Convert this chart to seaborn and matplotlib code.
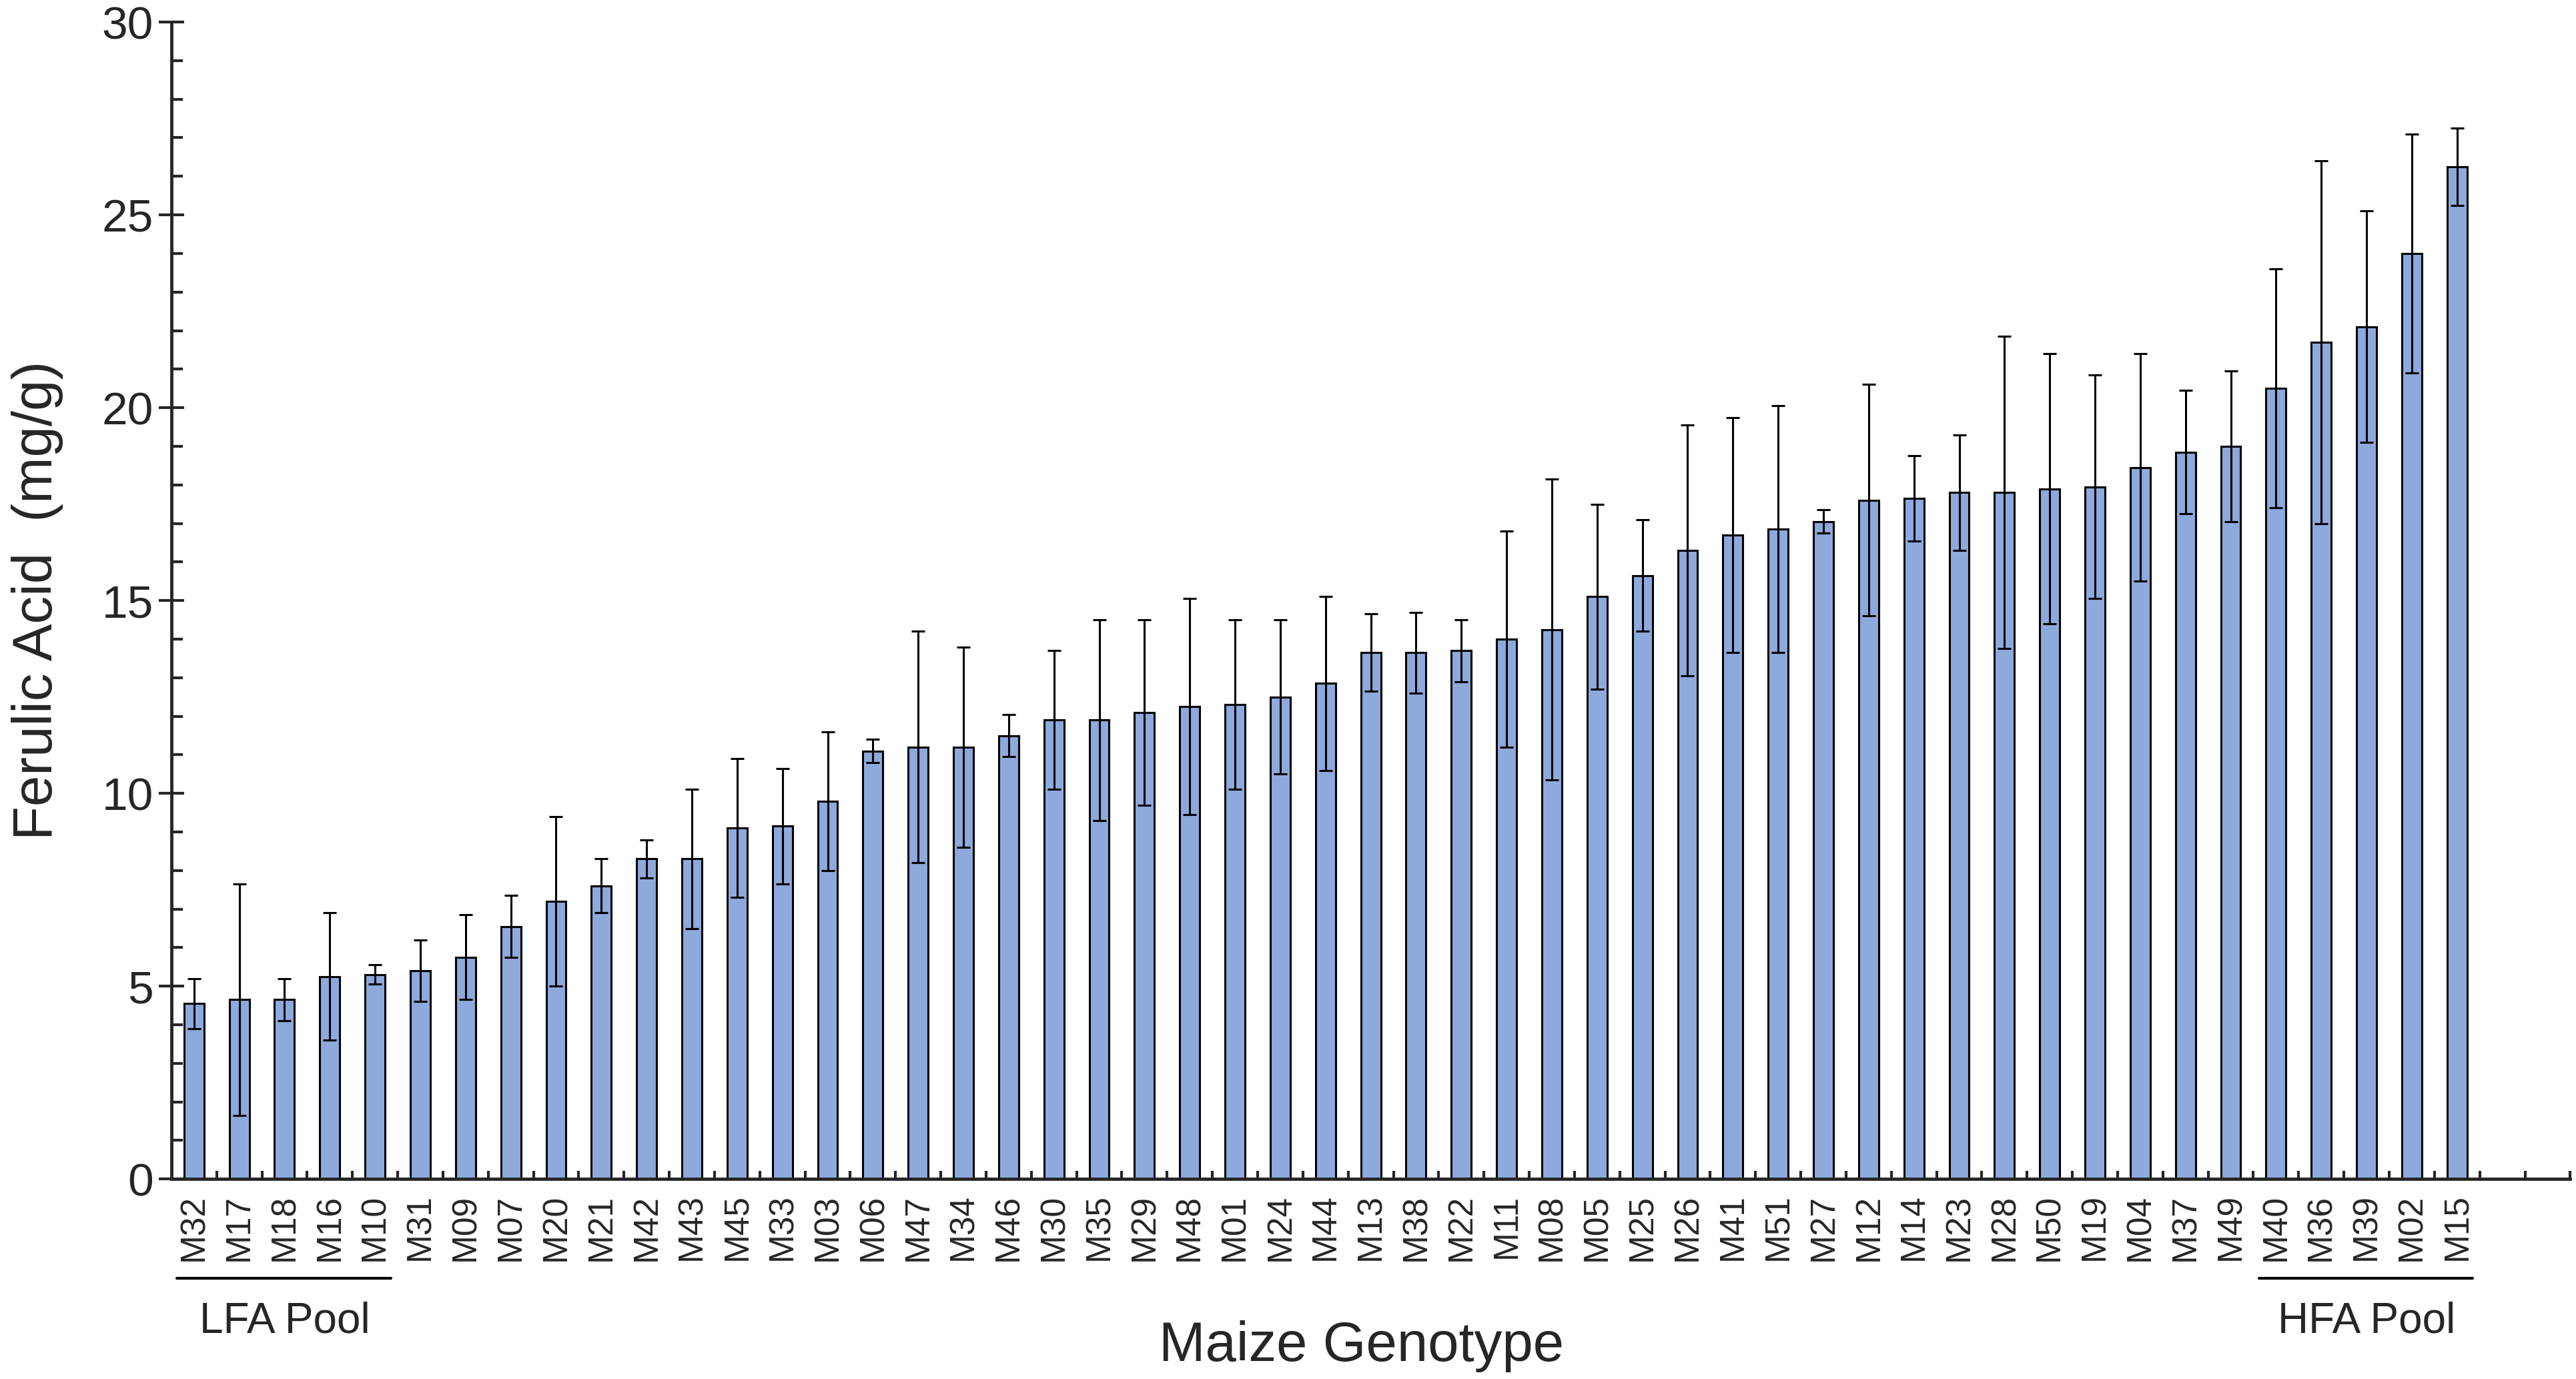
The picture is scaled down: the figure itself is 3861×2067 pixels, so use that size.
import numpy as np
import pandas as pd
import matplotlib
matplotlib.use("Agg")
import matplotlib.pyplot as plt
from matplotlib.ticker import MultipleLocator, FixedLocator
import seaborn as sns

# ── Data ───────────────────────────────────────────────
genotypes = ["M32", "M17", "M18", "M16", "M10", "M31", "M09", "M07", "M20", "M21",
             "M42", "M43", "M45", "M33", "M03", "M06", "M47", "M34", "M46", "M30",
             "M35", "M29", "M48", "M01", "M24", "M44", "M13", "M38", "M22", "M11",
             "M08", "M05", "M25", "M26", "M41", "M51", "M27", "M12", "M14", "M23",
             "M28", "M50", "M19", "M04", "M37", "M49", "M40", "M36", "M39", "M02",
             "M15"]
ferulic_mean = [4.55, 4.65, 4.65, 5.25, 5.3, 5.4, 5.75, 6.55, 7.2, 7.6,
                8.3, 8.3, 9.1, 9.15, 9.8, 11.1, 11.2, 11.2, 11.5, 11.9,
                11.9, 12.1, 12.25, 12.3, 12.5, 12.85, 13.65, 13.65, 13.7, 14.0,
                14.25, 15.1, 15.65, 16.3, 16.7, 16.85, 17.05, 17.6, 17.65, 17.8,
                17.8, 17.9, 17.95, 18.45, 18.85, 19.0, 20.5, 21.7, 22.1, 24.0,
                26.25]
ferulic_sd = [0.65, 3.0, 0.55, 1.65, 0.25, 0.8, 1.1, 0.8, 2.2, 0.7,
              0.5, 1.8, 1.8, 1.5, 1.8, 0.3, 3.0, 2.6, 0.55, 1.8,
              2.6, 2.4, 2.8, 2.2, 2.0, 2.25, 1.0, 1.05, 0.8, 2.8,
              3.9, 2.4, 1.45, 3.25, 3.05, 3.2, 0.3, 3.0, 1.1, 1.5,
              4.05, 3.5, 2.9, 2.95, 1.6, 1.95, 3.1, 4.7, 3.0, 3.1,
              1.0]
lfa_pool = ["M32", "M17", "M18", "M16", "M10"]
hfa_pool = ["M40", "M36", "M39", "M02", "M15"]

df = pd.DataFrame({"genotype": genotypes, "mean": ferulic_mean, "sd": ferulic_sd})

# ── Style ──────────────────────────────────────────────
sns.set_theme(style="ticks")
plt.rcParams["font.family"] = ["Liberation Sans", "DejaVu Sans"]
BAR = "#8EA9DB"

fig = plt.figure(figsize=(38.62, 20.67), dpi=100)
ax = fig.add_axes([0.0665, 0.145, 0.931, 0.839])

sns.barplot(data=df, x="genotype", y="mean", order=genotypes, color=BAR,
            width=0.44, edgecolor="black", linewidth=2.2, saturation=1,
            errorbar=None, ax=ax)
pos = np.arange(len(genotypes))
ax.errorbar(pos, df["mean"], yerr=df["sd"], fmt="none", ecolor="black",
            elinewidth=2.2, capsize=7, capthick=2.2, zorder=5)

# axes
ax.set_xlim(-0.5, len(genotypes) + 1.5)
ax.set_ylim(0, 30)
sns.despine(ax=ax)
for side in ["left", "bottom"]:
    ax.spines[side].set_linewidth(3.5)

ax.yaxis.set_major_locator(MultipleLocator(5))
ax.yaxis.set_minor_locator(MultipleLocator(1))
ax.tick_params(axis="y", which="major", direction="inout", length=27, width=3,
               labelsize=50, pad=6)
ax.tick_params(axis="y", which="minor", direction="in", length=12, width=3)

ax.xaxis.set_minor_locator(FixedLocator(np.arange(0.5, len(genotypes) + 2, 1.0)))
ax.tick_params(axis="x", which="major", length=0, labelsize=37, pad=16,
               labelrotation=90)
ax.tick_params(axis="x", which="minor", direction="in", length=9, width=3)

ax.set_ylabel("Ferulic Acid  (mg/g)", fontsize=60)
ax.yaxis.set_label_coords(-0.045, 0.5)
ax.set_xlabel("Maize Genotype", fontsize=60)
ax.xaxis.set_label_coords(0.496, -0.122)

# pool brackets
for pool, name in [(lfa_pool, "LFA Pool"), (hfa_pool, "HFA Pool")]:
    i0 = genotypes.index(pool[0])
    i1 = genotypes.index(pool[-1])
    ax.plot([i0 - 0.38, i1 + 0.35], [-0.086, -0.086], color="black", lw=3,
            transform=ax.get_xaxis_transform(), clip_on=False)
    ax.text((i0 + i1) / 2, -0.123, name, fontsize=46, ha="center", va="center",
            transform=ax.get_xaxis_transform())

fig.savefig("out.png", dpi=100, facecolor="white")
